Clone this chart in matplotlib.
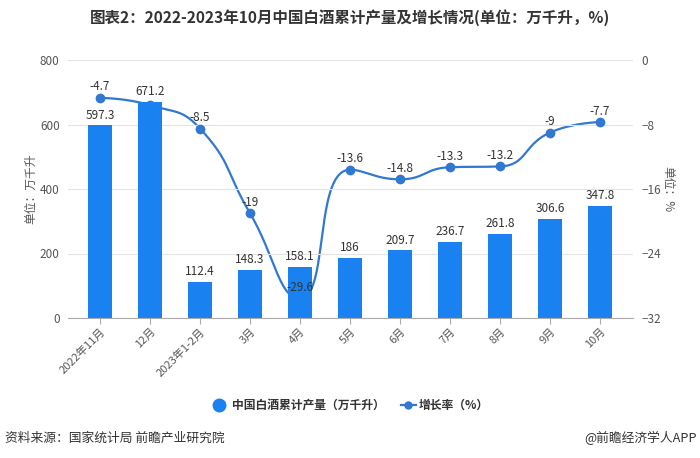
import numpy as np
import matplotlib
matplotlib.use("Agg")
import matplotlib.pyplot as plt

plt.rcParams['font.family'] = ['Noto Sans CJK SC', 'DejaVu Sans']

# --- data ---
months = ["2022年11月", "12月", "2023年1-2月", "3月", "4月", "5月", "6月",
          "7月", "8月", "9月", "10月"]
output = [597.3, 671.2, 112.4, 148.3, 158.1, 186, 209.7, 236.7, 261.8, 306.6, 347.8]
growth = [-4.7, -5.6, -8.5, -19, -29.6, -13.6, -14.8, -13.3, -13.2, -9, -7.7]
growth_labels = ["-4.7", "", "-8.5", "-19", "-29.6", "-13.6", "-14.8",
                 "-13.3", "-13.2", "-9", "-7.7"]

BAR = "#1a82f0"
LINE = "#3278d0"
GRID = "#e3e3e3"
TXT = "#555555"

# growth axis -32..0 mapped onto bar axis 0..800
def g2b(v):
    return (np.asarray(v, float) + 32) * 25


def smooth_path(xs, ys, smooth=0.5, n=30):
    # echarts-like bezier smoothing with clamped control points (pixel-ish space)
    pts = list(zip(xs, ys))
    out_x, out_y = [pts[0][0]], [pts[0][1]]
    cp0 = pts[0]
    m = len(pts)
    for i in range(1, m):
        px, py = pts[i - 1]
        x, y = pts[i]
        nxt_cp = None
        if i == m - 1:
            cp1 = (x, y)
        else:
            nx, ny = pts[i + 1]
            vx, vy = nx - px, ny - py
            lp = np.hypot(x - px, y - py)
            ln = np.hypot(nx - x, ny - y)
            r = ln / (ln + lp)
            ncx = x + vx * smooth * r
            ncy = y + vy * smooth * r
            ncx = max(min(ncx, max(nx, x)), min(nx, x))
            ncy = max(min(ncy, max(ny, y)), min(ny, y))
            vx, vy = ncx - x, ncy - y
            c1x = x - vx * lp / ln
            c1y = y - vy * lp / ln
            c1x = max(min(c1x, max(px, x)), min(px, x))
            c1y = max(min(c1y, max(py, y)), min(py, y))
            vx, vy = x - c1x, y - c1y
            nxt_cp = (x + vx * ln / lp, y + vy * ln / lp)
            cp1 = (c1x, c1y)
        t = np.linspace(0, 1, n)[1:]
        bx = (1-t)**3*px + 3*(1-t)**2*t*cp0[0] + 3*(1-t)*t**2*cp1[0] + t**3*x
        by = (1-t)**3*py + 3*(1-t)**2*t*cp0[1] + 3*(1-t)*t**2*cp1[1] + t**3*y
        out_x.extend(bx)
        out_y.extend(by)
        cp0 = nxt_cp
    return np.array(out_x), np.array(out_y)


fig = plt.figure(figsize=(7, 4.58), dpi=100)
ax = fig.add_axes([68/700, 1 - 318/458, 565/700, 258/458])
x = np.arange(len(months))

# smooth line (behind the bars, like the original)
XPX, YPX = 51.4, 258/32
sx, sy = smooth_path(x * XPX, np.asarray(growth) * YPX)
ax.plot(sx / XPX, g2b(sy / YPX), color=LINE, lw=1.6, zorder=1.5)
ax.plot(x, g2b(growth), "o", color=LINE, ms=6, zorder=1.6)

ax.bar(x, output, width=0.48, color=BAR, zorder=2)
for xi, v in zip(x, output):
    ax.text(xi, v + 12, f"{v:g}", ha="center", va="bottom", fontsize=8.5, color="#333333", zorder=5)
for xi, v, lab in zip(x, g2b(growth), growth_labels):
    if lab:
        ax.text(xi, v + 14, lab, ha="center", va="bottom", fontsize=8.5, color="#333333", zorder=5)

ax.set_xlim(-0.64, 10.66)
ax.set_ylim(0, 800)
ax.set_yticks([0, 200, 400, 600, 800])
ax.grid(axis="y", color=GRID, lw=0.8, zorder=0)
ax.set_xticks(x)
ax.set_xticklabels(months, rotation=45, ha="right", rotation_mode="anchor", fontsize=8, color=TXT)
ax.tick_params(axis="y", length=0, labelsize=8.5, labelcolor=TXT, pad=6)
ax.tick_params(axis="x", length=4, color="#aaaaaa", pad=2)
for s in ["top", "right", "left"]:
    ax.spines[s].set_visible(False)
ax.spines["bottom"].set_color("#aaaaaa")
ax.set_ylabel("单位：万千升", fontsize=8.5, color=TXT, labelpad=2)

ax2 = ax.twinx()
ax2.set_ylim(-32, 0)
ax2.set_yticks([0, -8, -16, -24, -32])
ax2.tick_params(axis="y", length=0, labelsize=8.5, labelcolor=TXT, pad=6)
for s in ["top", "right", "left", "bottom"]:
    ax2.spines[s].set_visible(False)
ax2.set_ylabel("单位：%", fontsize=8.5, color=TXT, rotation=-90, labelpad=10)

# title
fig.text(0.5, 1 - 18/458, "图表2：2022-2023年10月中国白酒累计产量及增长情况(单位：万千升，%)",
         ha="center", va="center", fontsize=11.2, fontweight="bold", color="#333333")

# legend
ly = 1 - 405/458
fig.lines.append(plt.Line2D([219/700], [ly], marker="o", ms=9, color=BAR, lw=0,
                            transform=fig.transFigure))
fig.text(232/700, ly, "中国白酒累计产量（万千升）", ha="left", va="center",
         fontsize=8.5, fontweight="bold", color="#333333")
fig.lines.append(plt.Line2D([401/700, 416/700], [ly, ly], color=LINE, lw=1.6,
                            transform=fig.transFigure))
fig.lines.append(plt.Line2D([408.5/700], [ly], marker="o", ms=5, color=LINE, lw=0,
                            transform=fig.transFigure))
fig.text(419/700, ly, "增长率（%）", ha="left", va="center",
         fontsize=8.5, fontweight="bold", color="#333333")

# footer
fig.text(5/700, 1 - 438/458, "资料来源：国家统计局 前瞻产业研究院", ha="left", va="center",
         fontsize=9.2, color="#333333")
fig.text(697/700, 1 - 438/458, "@前瞻经济学人APP", ha="right", va="center",
         fontsize=9.2, color="#333333")

fig.savefig("out.png", dpi=100)
